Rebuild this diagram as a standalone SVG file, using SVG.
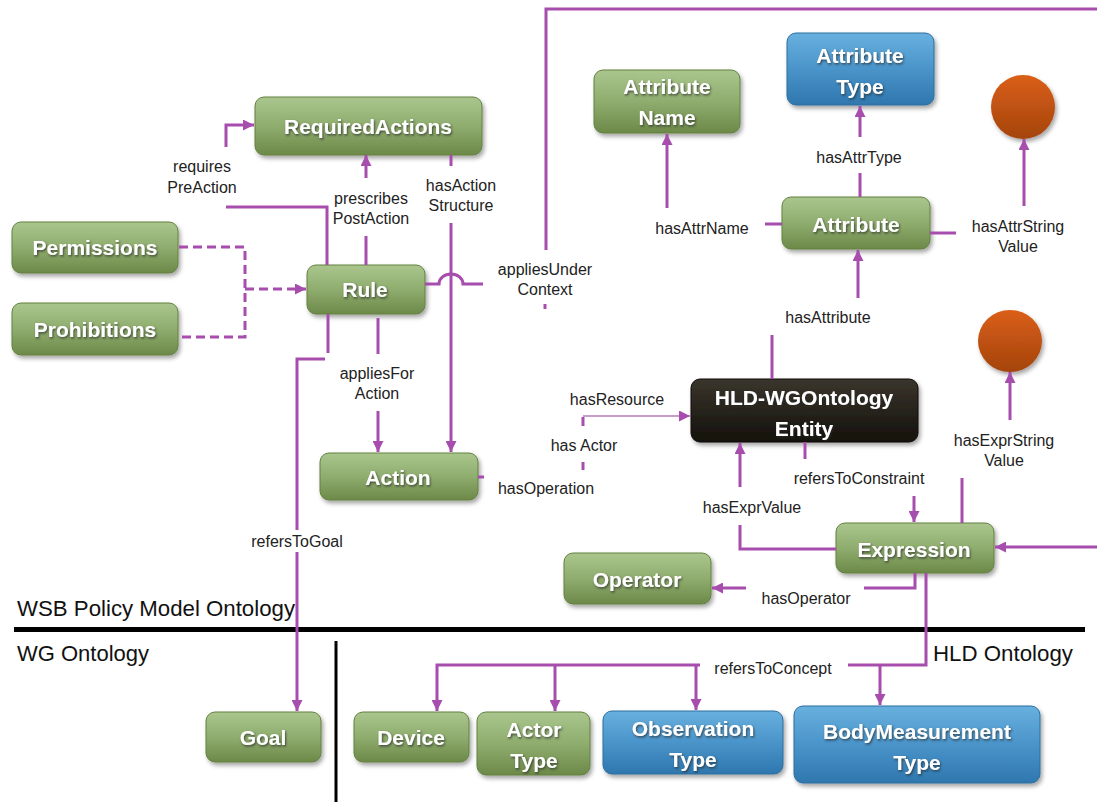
<svg xmlns="http://www.w3.org/2000/svg" width="1097" height="802" viewBox="0 0 1097 802">
  <defs>
    <linearGradient id="gGreen" x1="0" y1="0" x2="0" y2="1">
      <stop offset="0" stop-color="#AAC68E"/>
      <stop offset="0.5" stop-color="#8FAD6E"/>
      <stop offset="1" stop-color="#6C8949"/>
    </linearGradient>
    <linearGradient id="gBlue" x1="0" y1="0" x2="0" y2="1">
      <stop offset="0" stop-color="#68B0DE"/>
      <stop offset="0.5" stop-color="#4A94CA"/>
      <stop offset="1" stop-color="#2E77AE"/>
    </linearGradient>
    <linearGradient id="gDark" x1="0" y1="0" x2="0" y2="1">
      <stop offset="0" stop-color="#3A352C"/>
      <stop offset="1" stop-color="#14110C"/>
    </linearGradient>
    <linearGradient id="gOrange" x1="0" y1="0" x2="0" y2="1">
      <stop offset="0" stop-color="#DA5F16"/>
      <stop offset="1" stop-color="#A4440E"/>
    </linearGradient>
    <filter id="shadow" x="-20%" y="-20%" width="140%" height="150%">
      <feDropShadow dx="2" dy="3" stdDeviation="2" flood-color="#000" flood-opacity="0.35"/>
    </filter>
    <filter id="tshadow" x="-10%" y="-30%" width="120%" height="160%">
      <feDropShadow dx="1" dy="1.5" stdDeviation="1" flood-color="#2a2a2a" flood-opacity="0.75"/>
    </filter>
    <marker id="arr" viewBox="0 0 10 10" refX="10" refY="5" markerWidth="11" markerHeight="11" markerUnits="userSpaceOnUse" orient="auto">
      <path d="M0,0 L10,5 L0,10 z" fill="#A64DAE"/>
    </marker>
    <style>
      .g rect { fill: url(#gGreen); stroke: #62803F; stroke-width: 1; filter: url(#shadow); }
      .b rect { fill: url(#gBlue); stroke: #2C6E9F; stroke-width: 1; filter: url(#shadow); }
      .d rect { fill: url(#gDark); stroke: #0E0C08; stroke-width: 1; filter: url(#shadow); }
      .o ellipse { fill: url(#gOrange); filter: url(#shadow); }
      .nt { font-family: "Liberation Sans", Arial, sans-serif; font-weight: bold; font-size: 21px; fill: #fff; text-anchor: middle; filter: url(#tshadow); }
      .lbl { font-family: "Liberation Sans", Arial, sans-serif; font-size: 16px; fill: #222; text-anchor: middle; }
      .ttl { font-family: "Liberation Sans", Arial, sans-serif; font-size: 22px; fill: #111; }
      .c { fill: none; stroke: #A64DAE; stroke-width: 3; }
      .ca { fill: none; stroke: #A64DAE; stroke-width: 3; marker-end: url(#arr); }
      .thin { fill: none; stroke: #B57BBC; stroke-width: 1.3; marker-end: url(#arr); }
      .dash { fill: none; stroke: #A64DAE; stroke-width: 3; stroke-dasharray: 9 5; }
    </style>
  </defs>

  <rect width="1097" height="802" fill="#fff"/>

  <!-- ontology boundaries -->
  <g id="separators">
    <rect x="14" y="627" width="1071" height="5" fill="#000"/>
    <rect x="334.5" y="641" width="3" height="161" fill="#000"/>
    <text class="ttl" x="17" y="616" textLength="278" lengthAdjust="spacingAndGlyphs">WSB Policy Model Ontology</text>
    <text class="ttl" x="17" y="661" textLength="132" lengthAdjust="spacingAndGlyphs">WG Ontology</text>
    <text class="ttl" x="933" y="661" textLength="140" lengthAdjust="spacingAndGlyphs">HLD Ontology</text>
  </g>

  <!-- nodes -->
  <g id="requiredActions" class="g"><rect x="255" y="97" width="227" height="58" rx="9"/><text class="nt" x="368" y="134">RequiredActions</text></g>
  <g id="permissions" class="g"><rect x="12" y="222" width="166" height="51" rx="9"/><text class="nt" x="95" y="255">Permissions</text></g>
  <g id="prohibitions" class="g"><rect x="12" y="303" width="166" height="52" rx="9"/><text class="nt" x="95" y="337">Prohibitions</text></g>
  <g id="rule" class="g"><rect x="307" y="265" width="118" height="49" rx="9"/><text class="nt" x="365" y="297">Rule</text></g>
  <g id="action" class="g"><rect x="320" y="453" width="158" height="47" rx="9"/><text class="nt" x="398" y="485">Action</text></g>
  <g id="attributeName" class="g"><rect x="594" y="70" width="146" height="63" rx="9"/><text class="nt" x="667" y="94">Attribute</text><text class="nt" x="667" y="125">Name</text></g>
  <g id="attributeType" class="b"><rect x="787" y="33" width="147" height="72" rx="9"/><text class="nt" x="860" y="63">Attribute</text><text class="nt" x="860" y="94">Type</text></g>
  <g id="attrStringValue" class="o"><ellipse cx="1023" cy="107" rx="32" ry="32"/></g>
  <g id="attribute" class="g"><rect x="782" y="197" width="148" height="52" rx="9"/><text class="nt" x="856" y="232">Attribute</text></g>
  <g id="hldWgEntity" class="d"><rect x="691" y="379" width="227" height="63" rx="9"/><text class="nt" x="804" y="405">HLD-WGOntology</text><text class="nt" x="804" y="436">Entity</text></g>
  <g id="exprStringValue" class="o"><ellipse cx="1010" cy="341" rx="32" ry="31"/></g>
  <g id="expression" class="g"><rect x="836" y="523" width="158" height="50" rx="9"/><text class="nt" x="914" y="557">Expression</text></g>
  <g id="operator" class="g"><rect x="564" y="553" width="147" height="51" rx="9"/><text class="nt" x="637" y="587">Operator</text></g>
  <g id="goal" class="g"><rect x="206" y="712" width="115" height="50" rx="9"/><text class="nt" x="263" y="745">Goal</text></g>
  <g id="device" class="g"><rect x="354" y="712" width="115" height="50" rx="9"/><text class="nt" x="411" y="745">Device</text></g>
  <g id="actorType" class="g"><rect x="477" y="712" width="113" height="63" rx="9"/><text class="nt" x="534" y="737">Actor</text><text class="nt" x="534" y="768">Type</text></g>
  <g id="observationType" class="b"><rect x="603" y="711" width="180" height="63" rx="9"/><text class="nt" x="693" y="736">Observation</text><text class="nt" x="693" y="767">Type</text></g>
  <g id="bodyMeasurementType" class="b"><rect x="794" y="706" width="246" height="77" rx="9"/><text class="nt" x="917" y="739">BodyMeasurement</text><text class="nt" x="917" y="770">Type</text></g>

  <!-- connectors -->
  <g id="connectors">
    <!-- requiresPreAction -->
    <path class="c" d="M327,265 V207 H226"/>
    <path class="ca" d="M226,147 V125 H254"/>
    <!-- prescribesPostAction -->
    <path class="c" d="M366,265 V236"/>
    <path class="ca" d="M366,178 V155"/>
    <!-- hasActionStructure -->
    <path class="c" d="M451,155 V166"/>
    <path class="ca" d="M451,223 V452"/>
    <!-- appliesUnderContext: hops over hasActionStructure, runs along the top edge to Expression -->
    <path class="c" d="M425,284 H439 A12,10 0 0 1 463,284 H483"/>
    <path class="c" d="M545,304 V309"/>
    <path class="c" d="M546,250 V9 H1097"/>
    <path class="ca" d="M1097,547 H995"/>
    <!-- appliesForAction -->
    <path class="c" d="M378,318 V354"/>
    <path class="ca" d="M378,411 V452"/>
    <!-- refersToGoal -->
    <path class="c" d="M328,314 V353"/>
    <path class="c" d="M325,359 H297 V530"/>
    <path class="ca" d="M297,552 V711"/>
    <!-- permissions / prohibitions -->
    <path class="dash" d="M179,247 H245 V337 H179"/>
    <path class="dash" d="M245,289 H300"/>
    <path class="ca" d="M298,289 H306"/>
    <!-- hasOperation / has Actor / hasResource -->
    <path class="c" d="M478,477 H484"/>
    <path class="c" d="M583,462 V470"/>
    <path class="c" d="M583,417 V426"/>
    <path class="thin" d="M583,416 H690"/>
    <!-- hasAttribute -->
    <path class="c" d="M772,379 V335"/>
    <path class="ca" d="M858,298 V250"/>
    <!-- hasAttrName -->
    <path class="c" d="M782,224 H765"/>
    <path class="ca" d="M667,208 V134"/>
    <!-- hasAttrType -->
    <path class="c" d="M860,197 V173"/>
    <path class="ca" d="M860,137 V106"/>
    <!-- hasAttrStringValue -->
    <path class="c" d="M930,233 H956"/>
    <path class="ca" d="M1024,206 V139"/>
    <!-- hasExprValue -->
    <path class="c" d="M836,549 H740 V525"/>
    <path class="ca" d="M740,487 V443"/>
    <!-- refersToConstraint -->
    <path class="c" d="M805,442 V459"/>
    <path class="ca" d="M914,496 V522"/>
    <!-- hasExprStringValue -->
    <path class="c" d="M962,523 V478"/>
    <path class="ca" d="M1010,420 V372"/>
    <!-- hasOperator -->
    <path class="c" d="M915,573 V588 H864"/>
    <path class="ca" d="M746,588 H712"/>
    <!-- refersToConcept -->
    <path class="c" d="M926,573 V665 H848"/>
    <path class="ca" d="M700,665 H437 V711"/>
    <path class="ca" d="M555,665 V711"/>
    <path class="ca" d="M696,665 V710"/>
    <path class="ca" d="M880,665 V705"/>

    <!-- connector labels -->
    <text class="lbl" x="202" y="172">requires</text>
    <text class="lbl" x="202" y="193">PreAction</text>
    <text class="lbl" x="371" y="204">prescribes</text>
    <text class="lbl" x="371" y="224">PostAction</text>
    <text class="lbl" x="461" y="191">hasAction</text>
    <text class="lbl" x="461" y="211">Structure</text>
    <text class="lbl" x="545" y="275">appliesUnder</text>
    <text class="lbl" x="545" y="295">Context</text>
    <text class="lbl" x="377" y="379">appliesFor</text>
    <text class="lbl" x="377" y="399">Action</text>
    <text class="lbl" x="617" y="405">hasResource</text>
    <text class="lbl" x="584" y="451">has Actor</text>
    <text class="lbl" x="546" y="494">hasOperation</text>
    <text class="lbl" x="297" y="547">refersToGoal</text>
    <text class="lbl" x="702" y="234">hasAttrName</text>
    <text class="lbl" x="859" y="163">hasAttrType</text>
    <text class="lbl" x="1018" y="232">hasAttrString</text>
    <text class="lbl" x="1018" y="252">Value</text>
    <text class="lbl" x="828" y="323">hasAttribute</text>
    <text class="lbl" x="1004" y="446">hasExprString</text>
    <text class="lbl" x="1004" y="466">Value</text>
    <text class="lbl" x="859" y="484">refersToConstraint</text>
    <text class="lbl" x="752" y="513">hasExprValue</text>
    <text class="lbl" x="806" y="604">hasOperator</text>
    <text class="lbl" x="773" y="674">refersToConcept</text>
  </g>
</svg>
